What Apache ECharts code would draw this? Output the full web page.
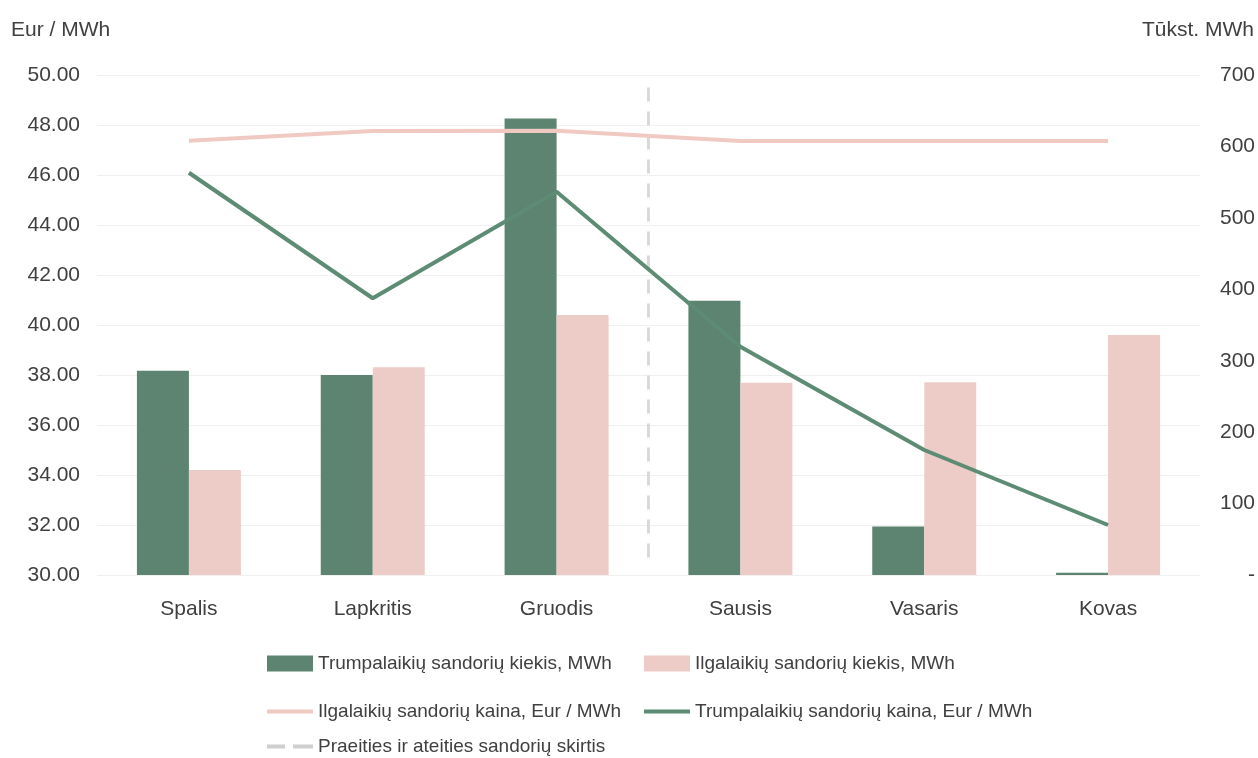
<!DOCTYPE html>
<html>
<head>
<meta charset="utf-8">
<script src="https://cdn.jsdelivr.net/npm/echarts@6/dist/echarts.min.js"></script>
<style>
html,body{margin:0;padding:0;background:#fff;}
#chart{width:1258px;height:758px;}
</style>
</head>
<body>
<div id="chart"></div>
<script>
const categories = ['Spalis', 'Lapkritis', 'Gruodis', 'Sausis', 'Vasaris', 'Kovas'];
const shortVolume = [286, 280, 639, 384, 68, 3];
const longVolume = [147, 291, 364, 269, 270, 336];
const longPrice = [47.37, 47.76, 47.77, 47.36, 47.36, 47.36];
const shortPrice = [46.09, 41.07, 45.33, 39.13, 35.00, 32.00];
const dividerPos = 3;
const dividerRange = [49.5, 30.3];
const leftTicks = {min: 30, max: 50, interval: 2};
const rightTicks = {min: 0, max: 700, interval: 100};

const FONT = "'Liberation Sans Narrow', 'Arial Narrow', 'Liberation Sans', sans-serif";
const TXT = '#404040';
const DARK = '#5C8470';
const PINK = '#EDCCC8';
const PINKLINE = '#F0C9C3';
const GREENLINE = '#5D8B74';

const chart = echarts.init(document.getElementById('chart'));
const legendText = {color: TXT, fontFamily: FONT, fontSize: 19};
function lg(name, left, top, icon, h) {
  return {data: [{name: name, icon: icon}], left: left, top: top, itemWidth: 46, itemHeight: h, itemGap: 2,
          textStyle: legendText, padding: 0, selectedMode: false};
}
chart.setOption({
  animation: false,
  textStyle: {fontFamily: FONT},
  grid: {left: 97, right: 56, top: 75, bottom: 183, containLabel: false},
  legend: [
    lg('Trumpalaikių sandorių kiekis, MWh', 267, 654, 'rect', 16),
    lg('Ilgalaikių sandorių kiekis, MWh', 644, 654, 'rect', 16),
    lg('Ilgalaikių sandorių kaina, Eur / MWh', 267, 702, 'rect', 4),
    lg('Trumpalaikių sandorių kaina, Eur / MWh', 644, 702, 'rect', 4),
    lg('Praeities ir ateities sandorių skirtis', 267, 737, 'path://M0,0H18V4H0Z M26,0H46V4H26Z', 4)
  ],
  xAxis: [
    {type: 'category', data: categories,
     axisLine: {show: false}, axisTick: {show: false},
     axisLabel: {color: TXT, fontFamily: FONT, fontSize: 21, margin: 24}},
    {type: 'value', min: 0, max: 6, show: false}
  ],
  yAxis: [
    {type: 'value', min: leftTicks.min, max: leftTicks.max, interval: leftTicks.interval,
     name: 'Eur / MWh', nameLocation: 'end', nameGap: 34,
     nameTextStyle: {color: TXT, fontFamily: FONT, fontSize: 21, align: 'left', padding: [0, 0, 0, -86]},
     axisLine: {show: false}, axisTick: {show: false},
     axisLabel: {color: TXT, fontFamily: FONT, fontSize: 21, margin: 17,
                 formatter: v => v.toFixed(2)},
     splitLine: {lineStyle: {color: '#F0F0F0', width: 1}}},
    {type: 'value', min: rightTicks.min, max: rightTicks.max, interval: rightTicks.interval,
     name: 'Tūkst. MWh', nameLocation: 'end', nameGap: 34,
     nameTextStyle: {color: TXT, fontFamily: FONT, fontSize: 21, align: 'right', padding: [0, -54, 0, 0]},
     axisLine: {show: false}, axisTick: {show: false},
     axisLabel: {color: TXT, fontFamily: FONT, fontSize: 21, margin: 20, align: 'right',
                 padding: [0, -35, 0, 0],
                 formatter: v => v === 0 ? '-' : String(v)},
     splitLine: {show: false}}
  ],
  series: [
    {name: 'Trumpalaikių sandorių kiekis, MWh', type: 'bar', yAxisIndex: 1, data: shortVolume,
     barWidth: 52, barGap: '0%', itemStyle: {color: DARK}},
    {name: 'Ilgalaikių sandorių kiekis, MWh', type: 'bar', yAxisIndex: 1, data: longVolume,
     barWidth: 52, barGap: '0%', itemStyle: {color: PINK}},
    {name: 'Ilgalaikių sandorių kaina, Eur / MWh', type: 'line', yAxisIndex: 0, data: longPrice,
     symbol: 'none', lineStyle: {color: PINKLINE, width: 4}, itemStyle: {color: PINKLINE}},
    {name: 'Trumpalaikių sandorių kaina, Eur / MWh', type: 'line', yAxisIndex: 0, data: shortPrice,
     symbol: 'none', lineStyle: {color: GREENLINE, width: 4}, itemStyle: {color: GREENLINE}},
    {name: 'Praeities ir ateities sandorių skirtis', type: 'line', xAxisIndex: 1, yAxisIndex: 0,
     data: dividerRange.map(v => [dividerPos, v]), symbol: 'none', z: 1,
     lineStyle: {color: '#D9D9D9', width: 3, type: [14, 10]}, itemStyle: {color: '#CFCFCF'}}
  ]
});
</script>
</body>
</html>
